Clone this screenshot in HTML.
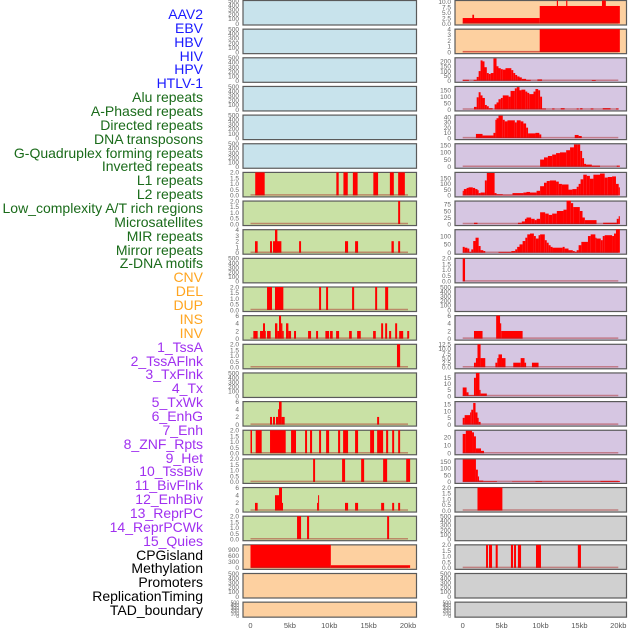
<!DOCTYPE html>
<html><head><meta charset="utf-8">
<style>
html,body{margin:0;padding:0;background:#fff;}
#wrap{position:relative;width:630px;height:630px;overflow:hidden;font-family:"Liberation Sans",sans-serif;}
.lab{position:absolute;right:427px;font-size:14px;line-height:14px;white-space:nowrap;}
svg{position:absolute;left:0;top:0;}
</style></head>
<body>
<div id="wrap">
<div id="labels"></div>
<svg id="svg" width="630" height="630"></svg>
</div>
<script>
const trackNames = ["AAV2","EBV","HBV","HIV","HPV","HTLV-1","Alu repeats","A-Phased repeats","Directed repeats","DNA transposons","G-Quadruplex forming repeats","Inverted repeats","L1 repeats","L2 repeats","Low_complexity A/T rich regions","Microsatellites","MIR repeats","Mirror repeats","Z-DNA motifs","CNV","DEL","DUP","INS","INV","1_TssA","2_TssAFlnk","3_TxFlnk","4_Tx","5_TxWk","6_EnhG","7_Enh","8_ZNF_Rpts","9_Het","10_TssBiv","11_BivFlnk","12_EnhBiv","13_ReprPC","14_ReprPCWk","15_Quies","CPGisland","Methylation","Promoters","ReplicationTiming","TAD_boundary"];
const trackGroups = [6,13,5,15,5];
const groupColors = ["#1a1aff","#1a6b1a","#ffa520","#a030f0","#000000"];
const xTickLabels = ["0","5kb","10kb","15kb","20kb"];
const xTickValues = [0,5,10,15,20];

// left column data: [startKb, endKb, value]
const L6 = [[0.6,1.8,2],[10.9,11.2,2],[11.8,12.35,2],[13.0,13.6,2],[15.6,16.2,2],[17.7,18.2,2],[18.75,19.6,2]];
const L7 = [[18.75,19.0,2]];
const L8 = [[0.57,0.91,2],[2.48,2.73,2],[2.86,3.92,2],[3.11,3.41,4],[6.17,6.42,2],[12.0,12.39,2],[13.28,13.66,2],[17.9,18.2,2],[18.75,19.0,2]];
const L10 = [[2.1,2.73,2],[3.11,4.17,2],[8.71,8.96,2],[9.6,9.85,2],[12.9,13.16,2],[15.83,16.08,2],[17.1,17.48,2]];
const L11 = [[0.36,0.91,2],[1.21,1.59,2],[1.59,1.84,4],[1.84,1.93,2],[2.1,2.56,2],[3.11,3.41,4],[3.41,3.62,2],[3.62,3.88,6],[3.88,4.05,4],[4.05,4.22,2],[4.51,4.81,4],[4.81,5.15,2],[5.53,5.78,2],[7.31,7.69,2],[8.33,8.58,2],[9.51,9.98,2],[10.1,10.44,2],[10.87,11.25,2],[12.52,12.86,2],[13.54,14.0,2],[15.57,15.91,2],[16.59,16.84,4],[17.1,17.35,4],[17.6,17.86,2],[18.37,18.62,4],[18.88,19.39,2],[19.9,20.15,2]];
const L12 = [[18.6,19.0,2]];
const L14 = [[2.48,2.73,2],[2.86,3.11,2],[3.24,3.5,2],[3.5,3.62,4],[3.62,3.95,6],[3.95,4.34,2],[16.08,16.33,2]];
const L15 = [[0,0.19,2],[0.66,1.42,2],[2.48,4.47,2],[5.15,5.78,2],[6.93,7.18,2],[7.56,7.82,2],[8.71,8.96,2],[9.6,9.98,2],[11.12,11.38,2],[11.76,12.39,2],[13.28,13.66,2],[15.19,15.69,2],[16.08,16.84,2],[17.22,17.48,2],[17.99,18.24,2],[18.75,19.0,2]];
const L16 = [[7.95,8.2,2],[11.63,12.01,2],[14.05,14.43,2],[16.84,17.35,2],[19.77,20.27,2]];
const L17 = [[0.57,0.91,2],[3.11,3.62,4],[3.62,4.0,6],[4.0,4.13,2],[8.45,8.58,2],[8.58,8.71,4],[12.0,12.39,2],[13.28,13.66,2],[16.59,16.97,2],[17.99,18.24,2],[18.75,19.0,2]];
const L18 = [[5.91,6.42,2],[7.18,7.44,2],[17.35,17.6,2]];
const L19 = [[0,10.2,1125],[10.2,20.27,128]];

// right column data
const R0 = [[0,9.9,2.5],[1.24,1.46,4],[9.9,20.2,8],[12.1,12.25,10.5],[13.3,13.45,10.5],[17.9,18.4,10.5]];
const R1 = [[0,9.9,0.08],[9.9,20.2,4]];
const R2 = [[0,0.8,10],[1.4,1.8,10],[1.8,2.05,40],[2.05,2.3,100],[2.3,2.55,210],[2.55,2.8,200],[2.8,3.1,140],[3.1,3.35,80],[3.35,3.6,70],[3.6,3.95,80],[3.95,4.35,230],[4.35,4.6,150],[4.6,4.9,130],[4.9,5.15,120],[5.15,5.5,115],[5.5,6.25,130],[6.25,6.5,110],[6.5,6.75,80],[6.75,7.0,60],[7.0,7.3,45],[7.3,7.6,35],[7.6,8.15,20],[8.15,8.75,10],[9.6,10.2,15],[16.6,17.1,8]];
const R3 = [[1.45,1.8,20],[1.8,2.05,95],[2.05,2.3,135],[2.3,2.55,110],[2.55,2.85,90],[2.85,3.1,35],[3.1,3.35,25],[3.35,3.85,10],[4.1,4.35,40],[4.35,4.6,55],[4.6,4.9,80],[4.9,5.15,90],[5.15,5.9,110],[5.9,6.15,100],[6.15,6.4,145],[6.4,6.7,145],[6.7,6.95,165],[6.95,7.3,175],[7.3,7.55,150],[7.55,8.05,155],[8.05,8.3,140],[8.3,8.55,130],[8.55,9.1,120],[9.1,9.35,140],[9.35,9.7,160],[9.7,9.95,150],[9.95,10.2,100],[10.2,10.7,8],[11.5,11.8,8],[12.6,13.1,10],[14.65,14.9,8],[15.1,15.4,10],[16.45,16.8,8],[18.0,19.0,10],[19.7,20.05,8]];
const R4 = [[1.7,2.55,8],[2.55,3.95,5],[3.95,4.2,10],[4.2,4.35,35],[4.35,4.6,38],[4.6,5.15,43],[5.15,5.4,35],[5.4,5.75,32],[5.75,6.7,34],[6.7,6.95,30],[6.95,7.45,34],[7.45,7.8,32],[7.8,8.15,28],[8.15,8.4,20],[8.4,9.35,9],[9.35,9.85,10],[9.85,10.1,7],[14.4,14.9,6],[14.9,15.3,4]];
const R5 = [[9.95,10.45,50],[10.45,10.95,65],[10.95,11.5,75],[11.5,12.0,85],[12.0,12.5,95],[12.5,13.3,100],[13.3,13.8,115],[13.8,14.3,135],[14.3,14.8,155],[14.8,15.1,155],[15.1,15.35,110],[15.35,15.6,60],[15.6,15.85,20],[15.85,16.6,15],[16.6,17.65,8],[19.8,20.2,8]];
const R6 = [[0,0.15,40],[0.15,0.5,55],[0.5,0.75,65],[0.75,1.3,70],[1.3,1.6,65],[1.6,1.9,55],[1.9,2.05,45],[2.05,2.3,20],[2.3,2.85,25],[2.85,3.1,130],[3.1,4.1,195],[4.1,4.35,20],[4.35,5.15,10],[5.15,6.4,5],[6.4,7.8,20],[7.8,8.2,25],[8.2,8.65,30],[8.65,9.5,25],[9.5,9.95,40],[9.95,10.45,80],[10.45,10.8,110],[10.8,11.2,125],[11.2,12.0,130],[12.0,12.35,120],[12.35,12.75,100],[12.75,13.6,95],[13.6,14.1,50],[14.1,14.65,55],[14.65,14.9,75],[14.9,15.15,100],[15.15,15.5,140],[15.5,15.95,180],[15.95,16.35,170],[16.35,16.8,145],[16.8,17.65,180],[17.65,18.25,190],[18.25,18.65,155],[18.65,19.2,160],[19.2,19.7,165],[19.7,20.05,100],[20.05,20.2,70]];
const R7 = [[1.45,1.9,5],[7.1,7.6,5],[7.6,8.0,10],[8.0,8.2,20],[8.2,8.8,25],[8.8,9.25,20],[9.25,9.5,15],[9.5,9.95,20],[9.95,10.6,45],[10.6,11.05,40],[11.05,11.5,35],[11.5,12.1,40],[12.1,12.95,50],[12.95,13.35,55],[13.35,13.9,90],[13.9,14.2,80],[14.2,15.05,65],[15.05,15.4,50],[15.4,15.7,25],[15.7,17.2,15],[18.05,19.8,5],[19.8,20.05,20],[20.05,20.2,30]];
const R8 = [[0,0.25,35],[0.25,0.6,30],[0.6,0.85,25],[0.85,1.1,5],[1.1,1.35,20],[1.35,1.65,70],[1.65,2.05,90],[2.05,2.3,40],[2.3,2.65,15],[2.65,2.9,10],[4.6,6.25,5],[6.25,6.75,10],[6.75,7.0,20],[7.0,7.3,35],[7.3,7.7,50],[7.7,8.05,70],[8.05,8.3,90],[8.3,8.65,110],[8.65,9.15,115],[9.15,9.4,100],[9.4,9.75,85],[9.75,9.95,105],[9.95,10.55,110],[10.55,10.8,75],[10.8,11.05,60],[11.05,11.3,45],[11.3,11.55,35],[11.55,12.85,30],[12.85,13.1,35],[13.1,13.6,25],[13.6,14.15,15],[14.15,14.4,10],[14.4,14.65,5],[14.65,14.9,15],[14.9,15.25,45],[15.25,16.1,65],[16.1,16.45,100],[16.45,17.05,110],[17.05,17.2,90],[17.2,17.75,85],[17.75,18.0,75],[18.0,18.25,100],[18.25,19.2,105],[19.2,19.45,100],[19.45,19.7,115],[19.7,20.2,140]];
const R9 = [[0,0.3,2]];
const R11 = [[1.45,2.55,2],[4.3,4.8,6],[4.8,4.95,4],[4.95,7.7,2]];
const R12 = [[1.45,1.7,2.5],[1.7,1.9,5],[1.9,2.3,12.5],[2.3,2.9,5],[4.2,4.45,2.5],[4.45,4.6,5],[4.6,5.05,7],[5.05,5.5,5],[6.5,7.45,2.5],[7.45,7.95,5],[7.95,8.15,2.5],[8.9,9.75,2.5]];
const R13 = [[0,0.5,7],[0.5,0.75,3],[0.75,1.45,0.5],[1.45,1.7,15],[1.7,2.15,19],[2.15,2.3,5],[2.3,3.1,2]];
const R14 = [[0,0.25,5],[0.25,0.95,7],[0.95,1.1,9],[1.1,1.35,11],[1.35,1.65,16],[1.65,1.9,9],[1.9,2.05,5],[2.05,2.3,2]];
const R15 = [[0,0.4,24],[0.4,1.2,28],[1.2,1.45,26],[1.45,1.7,21],[1.7,2.35,6],[2.35,2.74,3]];
const R16 = [[0,1.7,165],[1.7,1.95,90],[1.95,2.1,40],[2.1,2.65,10],[2.65,4.4,5],[6.35,9.35,3],[9.35,10.2,6],[10.2,17.7,3],[17.7,20.2,7]];
const R17 = [[1.9,5.1,2]];
const R19 = [[3.0,3.25,2],[3.38,3.77,2],[4.24,4.5,2],[6.2,6.47,2],[6.6,6.85,2],[7.1,7.5,2],[9.42,10.06,2],[14.8,15.2,2]];

const BLUE="#c8e3ec", GREEN="#c9e1a5", PEACH="#fdd0a0", PURP="#d6c6e2", GRAY="#d0d0d0";
const T500=[0,100,200,300,400,500], T2=[0,0.5,1,1.5,2], T4=[0,1,2,3,4], T6=[0,2,4,6];
// left column panel specs: [bg, ymax, ticks, data, decimals]
const leftPanels = [
 [BLUE,500,T500,null,0],[BLUE,500,T500,null,0],[BLUE,500,T500,null,0],[BLUE,500,T500,null,0],[BLUE,500,T500,null,0],[BLUE,500,T500,null,0],
 [GREEN,2,T2,L6,1],[GREEN,2,T2,L7,1],[GREEN,4,T4,L8,0],[GREEN,500,T500,null,0],[GREEN,2,T2,L10,1],[GREEN,6,T6,L11,0],
 [GREEN,2,T2,L12,1],[GREEN,500,T500,null,0],[GREEN,6,T6,L14,0],[GREEN,2,T2,L15,1],[GREEN,2,T2,L16,1],[GREEN,6,T6,L17,0],
 [GREEN,2,T2,L18,1],[PEACH,1125,[0,300,600,900],L19,0],[PEACH,500,T500,null,0],[PEACH,500,T500,null,0]];
const rightPanels = [
 [PEACH,10.5,[0,2.5,5,7.5,10],R0,1],[PEACH,4,T4,R1,0],[PURP,237,[0,50,100,150,200],R2,0],[PURP,180,[0,50,100,150],R3,0],
 [PURP,44,[0,10,20,30,40],R4,0],[PURP,160,[0,50,100,150],R5,0],[PURP,200,[0,50,100,150],R6,0],[PURP,88,[0,25,50,75],R7,0],
 [PURP,138,[0,50,100],R8,0],[PURP,2,T2,R9,1],[PURP,500,T500,null,0],[PURP,6,T6,R11,0],[PURP,12.5,[0,2.5,5,7.5,10,12.5],R12,1],
 [PURP,19,[0,5,10,15],R13,0],[PURP,17,[0,5,10,15],R14,0],[PURP,28.6,[0,10,20],R15,0],[PURP,169,[0,50,100,150],R16,0],
 [GRAY,2,T2,R17,1],[GRAY,500,T500,null,0],[GRAY,2,T2,R19,1],[GRAY,500,T500,null,0],[GRAY,500,T500,null,0]];

// labels
const labDiv = document.getElementById('labels');
let gi=0, cnt=0;
trackNames.forEach((n,i)=>{
  while(cnt>=trackGroups[gi]){cnt=0;gi++;}
  cnt++;
  const d=document.createElement('div');
  d.className='lab';
  
  
  d.style.top=(15+i*13.86-8)+'px';
  d.style.color=groupColors[gi];
  d.textContent=n;
  labDiv.appendChild(d);
});

const svg=document.getElementById('svg');
const NS='http://www.w3.org/2000/svg';
function mk(tag,attrs){const e=document.createElementNS(NS,tag);for(const k in attrs)e.setAttribute(k,attrs[k]);svg.appendChild(e);return e;}

function drawColumn(panels, px0, px1, x0kb, pxPerKb, tickX){
  const xs=kb=>x0kb+kb*pxPerKb;
  panels.forEach((p,i)=>{
    const top=i*28.65, h=(i===21)?15:24.5;
    const [bg,ymax,ticks,data,dec]=p;
    const bottom=top+h-1;
    const ys=v=>bottom-(v/ymax)*(h-1.5);
    const r=mk('rect',{x:px0,y:top+0.5,width:px1-px0,height:h,fill:bg,stroke:'#5a5a5a','stroke-width':1.2});
    
    
    if(data){
      data.forEach(s=>{
        const b=mk('rect',{x:xs(s[0]),y:ys(s[2]),width:Math.max(0.8,(s[1]-s[0])*pxPerKb),height:Math.max(0,bottom-ys(s[2])),fill:'#ff0000'});
        
        
      });
      const bl=mk('line',{x1:xs(0),x2:xs(20),y1:bottom-0.5,y2:bottom-0.5,stroke:'rgba(170,30,30,0.45)','stroke-width':1.5});
      
      
    }
    ticks.forEach(t=>{
      const tx=mk('text',{x:tickX,y:ys(t)+2.3,'text-anchor':'end','font-size':(ticks.length>5&&h<20)?5:6.5,fill:'#666','font-family':'Liberation Sans, sans-serif'});
      tx.textContent=dec?t.toFixed(1):String(t);
      
      
    });
  });
  xTickValues.forEach((v,j)=>{
    const t=mk('text',{x:xs(v),y:628,'text-anchor':'middle','font-size':7.5,fill:'#555','font-family':'Liberation Sans, sans-serif'});
    t.textContent=xTickLabels[j];
    
    
  });
}
drawColumn(leftPanels,243,416.5,250.5,7.875,239);
drawColumn(rightPanels,455,626.5,462.7,7.78,451);
</script>
</body></html>
